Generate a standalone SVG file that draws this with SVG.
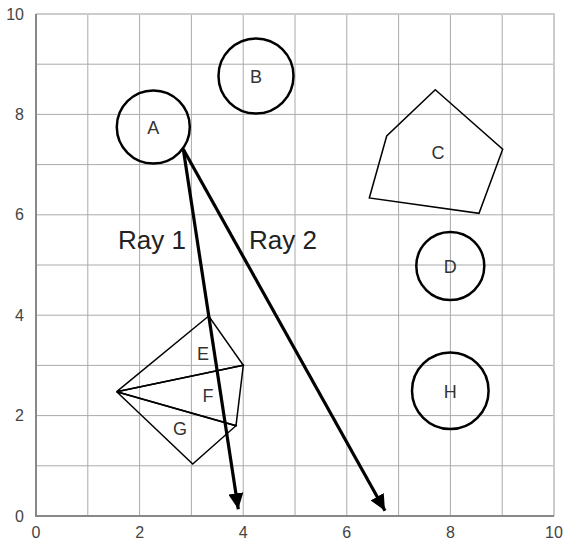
<svg xmlns="http://www.w3.org/2000/svg" width="563" height="543" viewBox="0 0 563 543">
<defs>
<style>
.grid{stroke:#aaa;stroke-width:1;fill:none}
.frame{stroke:#ccc;stroke-width:2;fill:none}
.axis{stroke:#888;stroke-width:2;fill:none}
.tick{font-family:"Liberation Sans",Arial,sans-serif;font-size:16px;fill:#444}
.shape{stroke:#000;stroke-width:1.5;fill:none}
.circ{stroke:#000;stroke-width:2.5;fill:none}
.lbl{font-family:"Liberation Sans",Arial,sans-serif;font-size:18px;fill:#333;text-anchor:middle;dominant-baseline:central}
.ray{stroke:#000;stroke-width:3.2;fill:none}
.raylbl{font-family:"Liberation Sans",Arial,sans-serif;font-size:26px;fill:#222}
</style>
<marker id="arr" markerUnits="userSpaceOnUse" markerWidth="17" markerHeight="15" viewBox="0 0 17 15" refX="16" refY="7.5" orient="auto">
<path d="M0,0 L16,7.5 L0,15 Z" fill="#000"/>
</marker>
</defs>
<rect width="563" height="543" fill="#fff"/>
<g id="grid">
<path class="grid" d="M87.8,14V516M139.6,14V516M191.4,14V516M243.2,14V516M295,14V516M346.8,14V516M398.6,14V516M450.4,14V516M502.2,14V516M36,465.8H554M36,415.6H554M36,365.4H554M36,315.2H554M36,265H554M36,214.8H554M36,164.6H554M36,114.4H554M36,64.2H554"/>
<path class="frame" d="M36,14H554V516"/>
<path class="axis" d="M36,14V516H554"/>
</g>
<g id="ticks" class="tick">
<g text-anchor="end" dominant-baseline="central">
<text x="24" y="516">0</text>
<text x="24" y="415.6">2</text>
<text x="24" y="315.2">4</text>
<text x="24" y="214.8">6</text>
<text x="24" y="114.4">8</text>
<text x="24" y="14">10</text>
</g>
<g text-anchor="middle">
<text x="36" y="538">0</text>
<text x="139.6" y="538">2</text>
<text x="243.2" y="538">4</text>
<text x="346.8" y="538">6</text>
<text x="450.4" y="538">8</text>
<text x="554" y="538">10</text>
</g>
</g>
<g id="A"><circle class="circ" cx="153.3" cy="127" r="36.5"/><text class="lbl" x="153.3" y="128">A</text></g>
<g id="B"><circle class="circ" cx="256" cy="76" r="37.5"/><text class="lbl" x="256" y="77">B</text></g>
<g id="C"><polygon class="shape" points="435.3,89.7 502.7,149.3 479,213.3 369.3,198 386.7,136"/><text class="lbl" x="438" y="153">C</text></g>
<g id="D"><circle class="circ" cx="450.3" cy="266" r="34"/><text class="lbl" x="450.3" y="267">D</text></g>
<g id="H"><circle class="circ" cx="450.3" cy="390.7" r="38.3"/><text class="lbl" x="450.3" y="391.5">H</text></g>
<g id="E"><polygon class="shape" points="116.7,391.7 208.7,316 243.3,365.3"/><text class="lbl" x="203" y="354">E</text></g>
<g id="F"><polygon class="shape" points="116.7,391.7 243.3,365.3 236,425.7"/><text class="lbl" x="208" y="396">F</text></g>
<g id="G"><polygon class="shape" points="116.7,391.7 236,425.7 192.7,464"/><text class="lbl" x="180" y="429">G</text></g>
<g id="connectors">
<line class="ray" x1="183.3" y1="149.3" x2="238.3" y2="509.3" marker-end="url(#arr)"/>
<line class="ray" x1="183.3" y1="149.3" x2="385" y2="510.7" marker-end="url(#arr)"/>
</g>
<g id="labels">
<text class="raylbl" x="118" y="249">Ray 1</text>
<text class="raylbl" x="249" y="249">Ray 2</text>
</g>
</svg>
